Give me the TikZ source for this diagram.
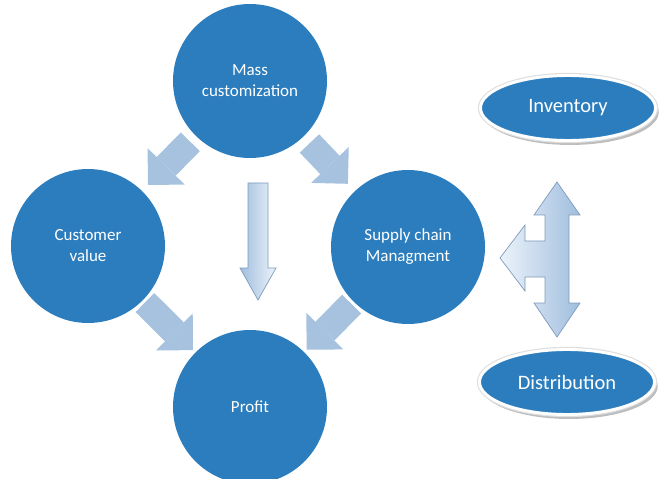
\documentclass[tikz,border=0pt]{standalone}
\usepackage{fontspec}
\setmainfont{Carlito}
\usetikzlibrary{arrows.meta,shapes.geometric,shadows}

\definecolor{discblue}{RGB}{43,125,189}
\definecolor{flowblue}{RGB}{166,194,222}
\definecolor{tipline}{RGB}{125,155,188}
\definecolor{tipfill}{RGB}{160,190,222}
\definecolor{tiplight}{RGB}{236,243,250}

\begin{document}
\begin{tikzpicture}[x=0.03cm,y=-0.03cm]

	\tikzset{disc/.style = {shape=circle,fill=discblue,text=white,minimum size=4.62cm,inner sep=0pt,align=center,font=\fontsize{14.5}{18}\selectfont}}
	\tikzset{oval/.style = {shape=ellipse,fill=discblue,text=white,minimum width=5.25cm,minimum height=1.95cm,inner sep=0pt,font=\fontsize{17.5}{20}\selectfont,
		drop shadow={shadow xshift=2pt,shadow yshift=-3.5pt,shadow scale=1.01,fill=gray!60,opacity=0.85},
		preaction={draw=gray!25,line width=4.5pt},draw=white,line width=2.5pt}}
	\tikzset{flow/.style = {draw=flowblue,line width=0.8cm,-{Triangle[length=0.78cm,width=1.56cm,line width=0pt]}}}
	\tikzset{bevel/.style = {left color=tiplight,right color=tipfill,draw=tipline,line width=0.6pt,line join=miter}}

	\useasboundingbox (0,0) rectangle (659,479);

	\node[disc] (mass) at (250,81) {Mass\\customization};
	\node[disc] (cust) at (88,246) {Customer\\value};
	\node[disc] (supply) at (408,247) {Supply chain\\Managment};
	\node[disc] (profit) at (250,407) {Profit};

	\node[oval] (inv) at (568,108) {Inventory};
	\node[oval] (dist) at (567,382) {Distribution};

	\draw[flow,shorten <=0.24cm,shorten >=0.25cm] (mass) -- (cust);
	\draw[flow,shorten <=0.27cm,shorten >=0.3cm] (mass) -- (supply);
	\draw[flow,shorten <=0.09cm,shorten >=0.1cm] (cust) -- (profit);
	\draw[flow,shorten <=0.09cm,shorten >=0.1cm] (supply) -- (profit);

	% straight arrow from mass customization down to profit
	\coordinate (vtop) at (258,183);
	\coordinate (vtip) at (258,300);
	\shade[bevel,left color=tipfill,right color=tiplight] (vtop) ++(-10,0) -- ++(20,0) -- ++(0,85) -- ++(8,0) -- (vtip) -- ++(-18,-32) -- ++(8,0) -- cycle;

	% three way arrow between inventory, distribution and supply chain
	\coordinate (ttop) at (557,182);
	\coordinate (tbot) at (557,337);
	\coordinate (tleft) at (500,258);
	\shade[bevel] (ttop) -- (580,215) -- (569,215) -- (569,303) -- (580,303) -- (tbot)
		-- (534,303) -- (545,303) -- (545,277) -- (525,277) -- (525,291) -- (tleft)
		-- (525,225) -- (525,241) -- (545,241) -- (545,215) -- (534,215) -- cycle;

\end{tikzpicture}
\end{document}
